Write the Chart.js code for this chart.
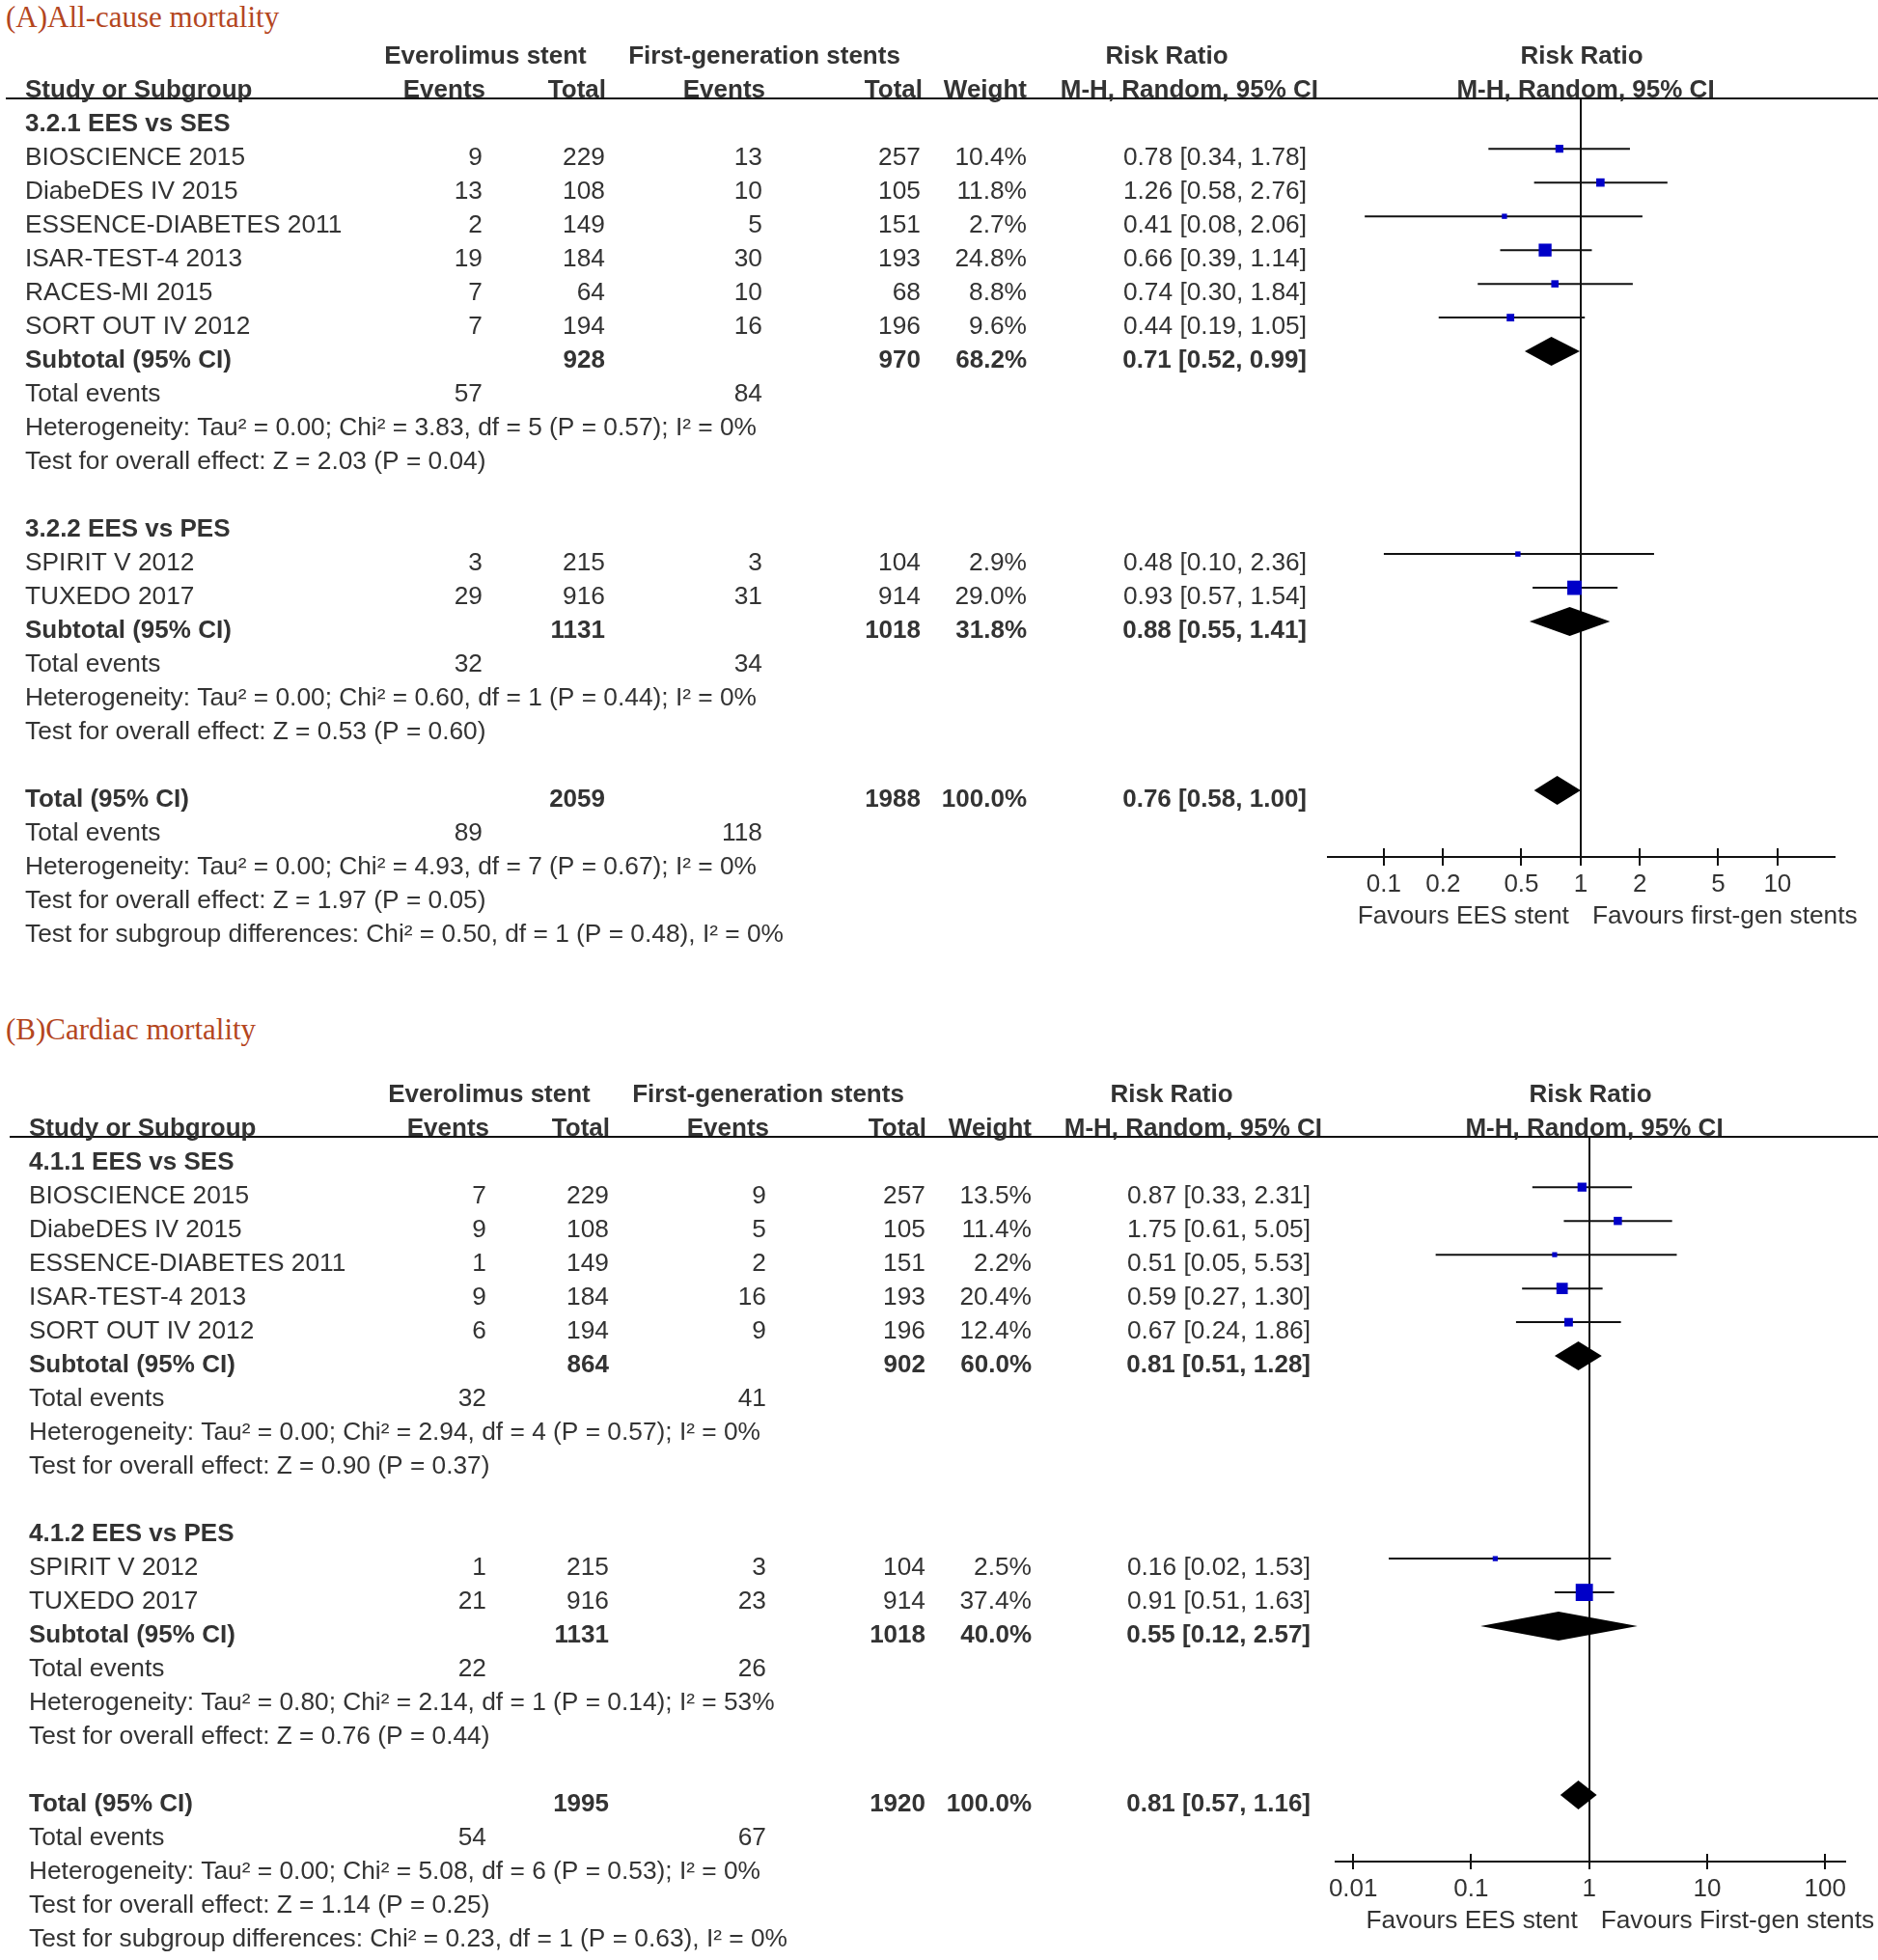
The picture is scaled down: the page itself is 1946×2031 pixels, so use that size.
<!DOCTYPE html>
<html>
<head>
<meta charset="utf-8">
<title>Forest plots: EES vs first-generation stents</title>
<script src="https://cdn.jsdelivr.net/npm/chart.js@4.4.1/dist/chart.umd.min.js"></script>
<style>
  body { margin: 0; background: #fff; width: 1946px; height: 2031px; position: relative; overflow: hidden; }
  .panel { position: absolute; left: 0; width: 1946px; }
  .panel canvas { position: absolute; left: 0; top: 0; }
  .title { position: absolute; left: 6px; font-family: "Liberation Serif", "Times New Roman", serif;
           font-size: 31px; line-height: 31px; color: #b4461e; white-space: nowrap; }
</style>
</head>
<body>
<div class="panel" style="top:0;height:1015px">
  <div class="title" style="top:2px">(A)All-cause mortality</div>
  <canvas id="chartA" width="1946" height="1015"></canvas>
</div>
<div class="panel" style="top:1015px;height:1016px">
  <div class="title" style="top:36px">(B)Cardiac mortality</div>
  <canvas id="chartB" width="1946" height="1016"></canvas>
</div>
<script>
// ---------- (A) All-cause mortality ----------
const aGroups = ['3.2.1 EES vs SES', '3.2.2 EES vs PES'];
const aStudies = ['BIOSCIENCE 2015', 'DiabeDES IV 2015', 'ESSENCE-DIABETES 2011', 'ISAR-TEST-4 2013',
  'RACES-MI 2015', 'SORT OUT IV 2012', 'SPIRIT V 2012', 'TUXEDO 2017'];
const aGroupOf = [0, 0, 0, 0, 0, 0, 1, 1];
const aEvtEes = [9, 13, 2, 19, 7, 7, 3, 29];
const aTotEes = [229, 108, 149, 184, 64, 194, 215, 916];
const aEvtFirst = [13, 10, 5, 30, 10, 16, 3, 31];
const aTotFirst = [257, 105, 151, 193, 68, 196, 104, 914];
const aWeight = [10.4, 11.8, 2.7, 24.8, 8.8, 9.6, 2.9, 29.0];
const aRR = [0.78, 1.26, 0.41, 0.66, 0.74, 0.44, 0.48, 0.93];
const aLow = [0.34, 0.58, 0.08, 0.39, 0.30, 0.19, 0.10, 0.57];
const aHigh = [1.78, 2.76, 2.06, 1.14, 1.84, 1.05, 2.36, 1.54];
const aSubTotEes = [928, 1131];
const aSubTotFirst = [970, 1018];
const aSubEvtEes = [57, 32];
const aSubEvtFirst = [84, 34];
const aSubWeight = [68.2, 31.8];
const aSubRR = [0.71, 0.88];
const aSubLow = [0.52, 0.55];
const aSubHigh = [0.99, 1.41];
const aSubHet = ['Heterogeneity: Tau² = 0.00; Chi² = 3.83, df = 5 (P = 0.57); I² = 0%',
  'Heterogeneity: Tau² = 0.00; Chi² = 0.60, df = 1 (P = 0.44); I² = 0%'];
const aSubTest = ['Test for overall effect: Z = 2.03 (P = 0.04)', 'Test for overall effect: Z = 0.53 (P = 0.60)'];
const aAllTot = [2059, 1988];
const aAllEvt = [89, 118];
const aAllCI = [0.76, 0.58, 1.00];
const aAllNotes = ['Heterogeneity: Tau² = 0.00; Chi² = 4.93, df = 7 (P = 0.67); I² = 0%',
  'Test for overall effect: Z = 1.97 (P = 0.05)',
  'Test for subgroup differences: Chi² = 0.50, df = 1 (P = 0.48), I² = 0%'];
const aTicks = [0.1, 0.2, 0.5, 1, 2, 5, 10];
const aFavours = ['Favours EES stent', 'Favours first-gen stents'];

// ---------- (B) Cardiac mortality ----------
const bGroups = ['4.1.1 EES vs SES', '4.1.2 EES vs PES'];
const bStudies = ['BIOSCIENCE 2015', 'DiabeDES IV 2015', 'ESSENCE-DIABETES 2011', 'ISAR-TEST-4 2013',
  'SORT OUT IV 2012', 'SPIRIT V 2012', 'TUXEDO 2017'];
const bGroupOf = [0, 0, 0, 0, 0, 1, 1];
const bEvtEes = [7, 9, 1, 9, 6, 1, 21];
const bTotEes = [229, 108, 149, 184, 194, 215, 916];
const bEvtFirst = [9, 5, 2, 16, 9, 3, 23];
const bTotFirst = [257, 105, 151, 193, 196, 104, 914];
const bWeight = [13.5, 11.4, 2.2, 20.4, 12.4, 2.5, 37.4];
const bRR = [0.87, 1.75, 0.51, 0.59, 0.67, 0.16, 0.91];
const bLow = [0.33, 0.61, 0.05, 0.27, 0.24, 0.02, 0.51];
const bHigh = [2.31, 5.05, 5.53, 1.30, 1.86, 1.53, 1.63];
const bSubTotEes = [864, 1131];
const bSubTotFirst = [902, 1018];
const bSubEvtEes = [32, 22];
const bSubEvtFirst = [41, 26];
const bSubWeight = [60.0, 40.0];
const bSubRR = [0.81, 0.55];
const bSubLow = [0.51, 0.12];
const bSubHigh = [1.28, 2.57];
const bSubHet = ['Heterogeneity: Tau² = 0.00; Chi² = 2.94, df = 4 (P = 0.57); I² = 0%',
  'Heterogeneity: Tau² = 0.80; Chi² = 2.14, df = 1 (P = 0.14); I² = 53%'];
const bSubTest = ['Test for overall effect: Z = 0.90 (P = 0.37)', 'Test for overall effect: Z = 0.76 (P = 0.44)'];
const bAllTot = [1995, 1920];
const bAllEvt = [54, 67];
const bAllCI = [0.81, 0.57, 1.16];
const bAllNotes = ['Heterogeneity: Tau² = 0.00; Chi² = 5.08, df = 6 (P = 0.53); I² = 0%',
  'Test for overall effect: Z = 1.14 (P = 0.25)',
  'Test for subgroup differences: Chi² = 0.23, df = 1 (P = 0.63), I² = 0%'];
const bTicks = [0.01, 0.1, 1, 10, 100];
const bFavours = ['Favours EES stent', 'Favours First-gen stents'];

const FONT = '"Liberation Sans", Arial, Helvetica, sans-serif';
const TEXT = '#333';
const INK = '#111';

const ci = (m, lo, hi) => m.toFixed(2) + ' [' + lo.toFixed(2) + ', ' + hi.toFixed(2) + ']';
const pct = w => w.toFixed(1) + '%';

// turn the arrays into table rows (one row per line of the table)
function buildRows(d) {
  const rows = [];
  d.groups.forEach((g, gi) => {
    rows.push({ label: g, bold: true });
    d.studies.forEach((s, i) => {
      if (d.groupOf[i] !== gi) return;
      rows.push({ label: s, study: i,
        cells: [d.evtE[i], d.totE[i], d.evtF[i], d.totF[i], pct(d.weight[i]), ci(d.rr[i], d.low[i], d.high[i])] });
    });
    rows.push({ label: 'Subtotal (95% CI)', bold: true, diamond: [d.subRR[gi], d.subLow[gi], d.subHigh[gi]],
      cells: ['', d.subTotE[gi], '', d.subTotF[gi], pct(d.subWeight[gi]), ci(d.subRR[gi], d.subLow[gi], d.subHigh[gi])] });
    rows.push({ label: 'Total events', cells: [d.subEvtE[gi], '', d.subEvtF[gi]] });
    rows.push({ label: d.subHet[gi] });
    rows.push({ label: d.subTest[gi] });
    rows.push({});
  });
  rows.push({ label: 'Total (95% CI)', bold: true, diamond: d.allCI,
    cells: ['', d.allTot[0], '', d.allTot[1], '100.0%', ci(d.allCI[0], d.allCI[1], d.allCI[2])] });
  rows.push({ label: 'Total events', cells: [d.allEvt[0], '', d.allEvt[1]], lastEvents: true });
  d.allNotes.forEach(n => rows.push({ label: n }));
  return rows;
}

function forestPlugin(rows, L, ticks, favours) {
  return {
    id: 'forest',
    beforeDatasetsDraw(chart) {
      const { ctx, chartArea: a, scales: { x, y } } = chart;
      ctx.save();
      ctx.strokeStyle = INK;
      ctx.lineWidth = 2;
      // line of no effect
      const x1 = Math.round(x.getPixelForValue(1));
      ctx.beginPath(); ctx.moveTo(x1, a.top); ctx.lineTo(x1, a.bottom); ctx.stroke();
      rows.forEach((r, i) => {
        const py = y.getPixelForValue(i);
        if (r.study !== undefined) {
          ctx.beginPath();
          ctx.moveTo(x.getPixelForValue(L.low[r.study]), py);
          ctx.lineTo(x.getPixelForValue(L.high[r.study]), py);
          ctx.stroke();
        }
        if (r.diamond) {
          const [m, lo, hi] = r.diamond;
          ctx.fillStyle = '#000';
          ctx.beginPath();
          ctx.moveTo(x.getPixelForValue(lo), py);
          ctx.lineTo(x.getPixelForValue(m), py - 15);
          ctx.lineTo(x.getPixelForValue(hi), py);
          ctx.lineTo(x.getPixelForValue(m), py + 15);
          ctx.closePath();
          ctx.fill();
        }
      });
      ctx.restore();
    },
    afterDraw(chart) {
      const { ctx, chartArea: a, scales: { x, y } } = chart;
      ctx.save();
      // header rule
      ctx.strokeStyle = INK;
      ctx.lineWidth = 2;
      ctx.beginPath(); ctx.moveTo(L.ruleLeft, a.top); ctx.lineTo(chart.width, a.top); ctx.stroke();
      // tick marks crossing the axis
      ticks.forEach(v => {
        const px = Math.round(x.getPixelForValue(v));
        ctx.beginPath(); ctx.moveTo(px, a.bottom - L.tick); ctx.lineTo(px, a.bottom + L.tick); ctx.stroke();
      });
      ctx.fillStyle = TEXT;
      ctx.textBaseline = 'alphabetic';
      const put = (t, px, py, align, bold) => {
        ctx.font = bold ? 'bold 26px ' + FONT : '26.3px ' + FONT;
        ctx.textAlign = align;
        ctx.fillText(String(t), px, py);
      };
      // column headers
      const h1 = a.top - 36, h2 = a.top - 1;
      put('Everolimus stent', L.head1[0], h1, 'center', true);
      put('First-generation stents', L.head1[1], h1, 'center', true);
      put('Risk Ratio', L.head1[2], h1, 'center', true);
      put('Risk Ratio', L.head1[3], h1, 'center', true);
      put('Study or Subgroup', L.labelX, h2, 'left', true);
      ['Events', 'Total', 'Events', 'Total', 'Weight', 'M-H, Random, 95% CI']
        .forEach((t, k) => put(t, L.head2[k], h2, 'right', true));
      put('M-H, Random, 95% CI', L.head1[3] + 4, h2, 'center', true);
      // table body
      rows.forEach((r, i) => {
        if (!r.label) return;
        const py = y.getPixelForValue(i) + 17;
        put(r.label, L.labelX, py, 'left', r.bold);
        (r.cells || []).forEach((c, k) => { if (c !== '') put(c, L.cols[k], py, 'right', r.bold); });
      });
      // favours labels
      const x1 = x.getPixelForValue(1);
      put(favours[0], x1 - 12, a.bottom + 69, 'right', false);
      put(favours[1], x1 + 12, a.bottom + 69, 'left', false);
      ctx.restore();
    }
  };
}

function drawForest(id, d, L) {
  const rows = buildRows(d);
  const pts = [], radii = [];
  rows.forEach((r, i) => {
    if (r.study === undefined) return;
    pts.push({ x: d.rr[r.study], y: i });
    // square side grows with the study weight
    radii.push((4.4 + 0.36 * d.weight[r.study]) / Math.SQRT2);
  });
  const axisRow = rows.findIndex(r => r.lastEvents) + 0.97;
  const canvas = document.getElementById(id);
  const W = canvas.width, H = canvas.height;
  return new Chart(canvas.getContext('2d'), {
    type: 'scatter',
    data: {
      datasets: [{
        data: pts,
        pointStyle: 'rect',
        pointRadius: radii,
        pointHoverRadius: radii,
        backgroundColor: '#0000c8',
        borderColor: '#0000c8',
        borderWidth: 0
      }]
    },
    options: {
      responsive: false,
      animation: false,
      events: [],
      layout: { padding: { left: L.plotLeft, right: W - L.plotRight, top: L.top, bottom: H - L.axisY - 70 } },
      plugins: { legend: { display: false }, tooltip: { enabled: false } },
      scales: {
        x: {
          type: 'logarithmic',
          min: L.xMin,
          max: L.xMax,
          afterBuildTicks: s => { s.ticks = d.ticks.map(v => ({ value: v })); },
          afterFit: s => { s.height = 70; s.paddingLeft = 0; s.paddingRight = 0; },
          grid: { display: false, drawTicks: false },
          border: { display: true, color: INK, width: 2 },
          ticks: {
            padding: 13, color: TEXT, autoSkip: false, maxRotation: 0,
            font: { family: FONT, size: 26 },
            callback: v => String(v)
          }
        },
        y: { type: 'linear', reverse: true, min: -0.49, max: axisRow, display: false }
      }
    },
    plugins: [forestPlugin(rows, Object.assign({ low: d.low, high: d.high }, L), d.ticks, d.favours)]
  });
}

drawForest('chartA', {
  groups: aGroups, studies: aStudies, groupOf: aGroupOf,
  evtE: aEvtEes, totE: aTotEes, evtF: aEvtFirst, totF: aTotFirst,
  weight: aWeight, rr: aRR, low: aLow, high: aHigh,
  subTotE: aSubTotEes, subTotF: aSubTotFirst, subEvtE: aSubEvtEes, subEvtF: aSubEvtFirst,
  subWeight: aSubWeight, subRR: aSubRR, subLow: aSubLow, subHigh: aSubHigh,
  subHet: aSubHet, subTest: aSubTest,
  allTot: aAllTot, allEvt: aAllEvt, allCI: aAllCI, allNotes: aAllNotes,
  ticks: aTicks, favours: aFavours
}, {
  plotLeft: 1376, plotRight: 1901, top: 102, axisY: 888, xMin: 0.052, xMax: 19.5, tick: 9,
  ruleLeft: 6, labelX: 26,
  cols: [500, 627, 790, 954, 1064, 1354],
  head2: [503, 628, 793, 956, 1064, 1366],
  head1: [503, 792, 1209, 1639]
});

drawForest('chartB', {
  groups: bGroups, studies: bStudies, groupOf: bGroupOf,
  evtE: bEvtEes, totE: bTotEes, evtF: bEvtFirst, totF: bTotFirst,
  weight: bWeight, rr: bRR, low: bLow, high: bHigh,
  subTotE: bSubTotEes, subTotF: bSubTotFirst, subEvtE: bSubEvtEes, subEvtF: bSubEvtFirst,
  subWeight: bSubWeight, subRR: bSubRR, subLow: bSubLow, subHigh: bSubHigh,
  subHet: bSubHet, subTest: bSubTest,
  allTot: bAllTot, allEvt: bAllEvt, allCI: bAllCI, allNotes: bAllNotes,
  ticks: bTicks, favours: bFavours
}, {
  plotLeft: 1384, plotRight: 1912, top: 163, axisY: 914, xMin: 0.0071, xMax: 148, tick: 8,
  ruleLeft: 10, labelX: 30,
  cols: [504, 631, 794, 959, 1069, 1358],
  head2: [507, 632, 797, 960, 1069, 1370],
  head1: [507, 796, 1214, 1648]
});
</script>
</body>
</html>
